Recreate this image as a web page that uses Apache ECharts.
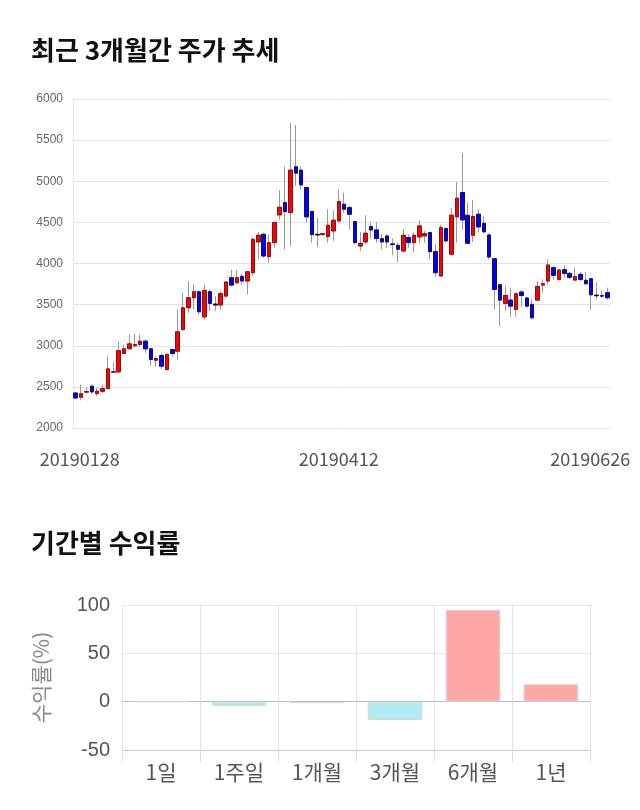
<!DOCTYPE html>
<html><head><meta charset="utf-8">
<script src="https://cdn.jsdelivr.net/npm/echarts@6/dist/echarts.min.js"></script>
<style>html,body{margin:0;padding:0;background:#fff}#c{width:640px;height:810px}</style>
</head><body><div id="c"></div>
<script>
const dates = ['20190128','20190129','20190130','20190131','20190207','20190208','20190211','20190212','20190213','20190214','20190215','20190218','20190219','20190220','20190221','20190222','20190225','20190226','20190227','20190228',
'20190304','20190305','20190306','20190307','20190308','20190311','20190312','20190313','20190314','20190315','20190318','20190319','20190320','20190321','20190322','20190325','20190326','20190327','20190328','20190329',
'20190401','20190402','20190403','20190404','20190405','20190408','20190409','20190410','20190411','20190412','20190415','20190416','20190417','20190418','20190419','20190422','20190423','20190424','20190425','20190426','20190429','20190430',
'20190502','20190503','20190507','20190508','20190509','20190510','20190513','20190514','20190515','20190516','20190517','20190520','20190521','20190522','20190523','20190524','20190527','20190528','20190529','20190530','20190531',
'20190603','20190604','20190605','20190607','20190610','20190611','20190612','20190613','20190614','20190617','20190618','20190619','20190620','20190621','20190624','20190625','20190626'];
const opens = [2426,2374,2436,2508,2418,2447,2479,2678,2682,2906,2963,3000,3015,3056,2963,2824,2881,2711,2954,2934,
3198,3462,3584,3657,3352,3657,3507,3495,3604,3827,3767,3844,3787,3888,4262,4355,4083,4254,4591,4741,
4619,5176,5135,4924,4632,4355,4351,4327,4396,4518,4721,4680,4510,4213,4262,4449,4408,4303,4335,4238,
4221,4152,4315,4254,4323,4335,4376,4144,3848,4425,4112,4567,4863,4587,4343,4599,4489,4347,4059,3742,
3515,3555,3442,3653,3580,3503,3555,3738,3787,3949,3807,3925,3880,3799,3868,3795,3815,3616,3608,3645];
const closes = [2365,2418,2444,2439,2447,2479,2719,2686,2942,2963,3023,3015,3056,2963,2833,2845,2751,2893,2906,3170,
3462,3584,3657,3413,3673,3515,3495,3633,3775,3738,3827,3787,3900,4294,4343,4091,4254,4498,4684,4631,
5135,5099,4956,4567,4351,4347,4363,4465,4526,4753,4660,4599,4254,4246,4368,4408,4303,4262,4262,4230,
4173,4343,4254,4343,4457,4363,4144,3888,4437,4274,4587,4794,4530,4246,4571,4445,4384,4079,3685,3555,
3612,3482,3633,3612,3482,3340,3722,3754,3982,3856,3921,3880,3832,3840,3807,3754,3620,3608,3604,3584];
const lows = [2355,2337,2418,2418,2386,2426,2479,2670,2670,2893,2954,2975,2990,2914,2751,2743,2719,2690,2865,2832,
3178,3401,3442,3381,3320,3422,3422,3442,3584,3720,3746,3738,3624,3848,4051,4071,4010,4193,4530,4172,
4213,4944,4904,4498,4254,4201,4340,4254,4274,4498,4619,4416,4234,4152,4234,4303,4254,4173,4193,4100,
4018,4132,4193,4132,4246,4254,4051,3840,3848,4254,4112,4254,4408,4246,4262,4376,4384,4051,3442,3239,
3421,3352,3352,3474,3462,3320,3543,3645,3746,3807,3787,3827,3807,3787,3787,3734,3434,3563,3580,3563];
const highs = [2430,2528,2500,2528,2487,2528,2881,2800,3056,3015,3137,3150,3137,3076,2975,2873,2906,2906,2962,3442,
3645,3787,3747,3665,3746,3685,3604,3665,3787,3921,3921,3876,3909,4315,4384,4376,4355,4498,4891,5180,
5708,5684,5180,4924,4632,4558,4372,4660,4640,4904,4863,4700,4518,4384,4587,4498,4498,4355,4355,4303,
4254,4416,4355,4376,4530,4396,4384,4234,4470,4437,4680,4993,5342,4741,4774,4660,4579,4368,4059,3742,
3726,3706,3645,3677,3596,3563,3787,3807,4051,3970,3937,3978,3897,3949,3897,3897,3815,3775,3660,3706];
const priceTicks = [2000, 6000, 500];
const labelDates = ['20190128','20190412','20190626'];

const periods = ['1일','1주일','1개월','3개월','6개월','1년'];
const returns = [0, -4.5, -1.5, -19, 95, 18];
const returnTicks = [-50, 100, 50];

const numFont = "'Liberation Sans', Arial, 'Noto Sans CJK KR', sans-serif";
const krFont = "'Noto Sans CJK KR', 'Noto Sans', sans-serif";

const wickData = dates.map((d, i) => [opens[i], closes[i], lows[i], highs[i]]);
const bodyData = dates.map((d, i) => [opens[i], closes[i], Math.min(opens[i], closes[i]), Math.max(opens[i], closes[i])]);
const firstDate = dates[0];
const lastDate = dates[dates.length - 1];
const dateStyle = {fontSize: 18, color: '#555', fontFamily: krFont};

const chart = echarts.init(document.getElementById('c'), null, {renderer: 'canvas'});
chart.setOption({
  animation: false,
  backgroundColor: '#fff',
  title: [
    {text: '최근 3개월간 주가 추세', left: 26, top: 32, textStyle: {fontFamily: krFont, fontSize: 26, fontWeight: 'bold', color: '#111'}},
    {text: '기간별 수익률', left: 26, top: 525, textStyle: {fontFamily: krFont, fontSize: 26, fontWeight: 'bold', color: '#111'}}
  ],
  grid: [
    {left: 73, right: 30, top: 99, height: 329},
    {left: 122, right: 50, top: 605, height: 145}
  ],
  xAxis: [
    {type: 'category', gridIndex: 0, data: dates, boundaryGap: true,
     axisLine: {show: false}, axisTick: {show: false}, splitLine: {show: false},
     axisLabel: Object.assign({interval: (i, v) => labelDates.includes(v), margin: 22,
       formatter: v => v === lastDate ? '{r|' + v + '}' : (v === firstDate ? '{f|' + v + '}' : v),
       rich: {r: Object.assign({padding: [0, 34, 0, 0]}, dateStyle), f: Object.assign({padding: [0, 0, 0, 8]}, dateStyle)}}, dateStyle)},
    {type: 'category', gridIndex: 1, data: periods,
     axisLine: {show: true, onZero: false, lineStyle: {color: '#ccc'}},
     axisTick: {show: true, length: 12, lineStyle: {color: '#ddd'}},
     splitLine: {show: true, lineStyle: {color: '#e2e2e2'}},
     axisLabel: {margin: 12, fontSize: 21, color: '#555', fontFamily: krFont}}
  ],
  yAxis: [
    {type: 'value', gridIndex: 0, min: priceTicks[0], max: priceTicks[1], interval: priceTicks[2],
     axisLine: {show: true, lineStyle: {color: '#e6e6e6'}}, axisTick: {show: false},
     splitLine: {show: true, lineStyle: {color: '#e3e3e3'}},
     axisLabel: {fontSize: 12, color: '#666', margin: 10, fontFamily: numFont, formatter: v => String(v)}},
    {type: 'value', gridIndex: 1, min: returnTicks[0], max: returnTicks[1], interval: returnTicks[2],
     name: '수익률(%)', nameLocation: 'middle', nameGap: 70, nameRotate: 90,
     nameTextStyle: {fontSize: 21, color: '#888', fontFamily: krFont},
     axisLine: {show: false}, axisTick: {show: false},
     splitLine: {show: true, lineStyle: {color: ['#ccc', '#bbb', '#e8e8e8', '#e8e8e8']}},
     axisLabel: {fontSize: 20, color: '#555', margin: 12, fontFamily: numFont, formatter: v => String(v)}}
  ],
  series: [
    {type: 'candlestick', xAxisIndex: 0, yAxisIndex: 0, data: wickData, barWidth: 4,
     itemStyle: {color: 'transparent', color0: 'transparent', borderColor: '#999', borderColor0: '#999', borderWidth: 1}},
    {type: 'candlestick', xAxisIndex: 0, yAxisIndex: 0, data: bodyData, barWidth: 4,
     itemStyle: {color: '#ff0000', color0: '#0000ff', borderColor: '#8a1010', borderColor0: '#101060', borderWidth: 1}},
    {type: 'bar', xAxisIndex: 1, yAxisIndex: 1, barWidth: '70%',
     data: returns.map(v => ({value: v, itemStyle: {color: v >= 0 ? '#ffa6a6' : '#b3ebf2', borderColor: '#d6d6d6', borderWidth: 1}}))}
  ]
});
</script></body></html>
